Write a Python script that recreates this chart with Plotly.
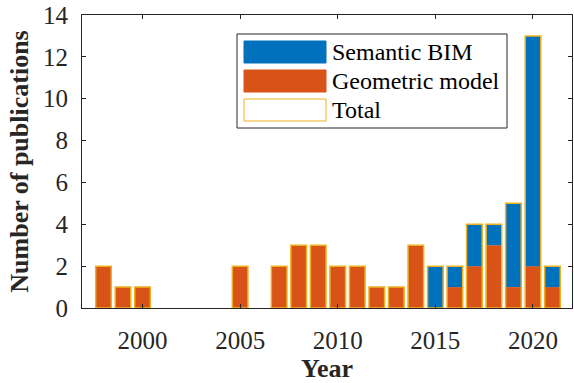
import plotly.graph_objects as go

years = [1998, 1999, 2000, 2005, 2007, 2008, 2009, 2010, 2011, 2012, 2013, 2014,
         2015, 2016, 2017, 2018, 2019, 2020, 2021]
total = [2, 1, 1, 2, 2, 3, 3, 2, 2, 1, 1, 3, 2, 2, 4, 4, 5, 13, 2]
geometric = [2, 1, 1, 2, 2, 3, 3, 2, 2, 1, 1, 3, 0, 1, 2, 3, 1, 2, 1]
semantic = [t - g for t, g in zip(total, geometric)]
legend_labels = ["Semantic BIM", "Geometric model", "Total"]
x_ticks = [2000, 2005, 2010, 2015, 2020]
y_ticks = [0, 2, 4, 6, 8, 10, 12, 14]

BLUE = "#0072BD"
ORANGE = "#D95319"
YELLOW = "#EDB120"
AX = "#262626"
FONT = "Liberation Serif, Times New Roman, serif"

W, H = 574, 383
L, R, T, B = 82, 2, 15, 75
PW, PH = W - L - R, H - T - B


def px(x):
    return (x - L) / PW


def py(y):
    return (H - B - y) / PH


fig = go.Figure()
fig.add_trace(go.Bar(x=years, y=geometric, marker=dict(color=ORANGE, line=dict(width=0)),
                     width=0.8, name=legend_labels[1], showlegend=False))
fig.add_trace(go.Bar(x=years, y=semantic, base=geometric,
                     marker=dict(color=BLUE, line=dict(width=0)),
                     width=0.8, name=legend_labels[0], showlegend=False))
fig.add_trace(go.Bar(x=years, y=total, marker=dict(color="rgba(0,0,0,0)", line=dict(color=YELLOW, width=1.5)),
                     width=0.8, name=legend_labels[2], showlegend=False))

axis_common = dict(showline=True, mirror="ticks", linecolor=AX, linewidth=1,
                   ticks="inside", tickcolor=AX, ticklen=4, tickwidth=1,
                   showgrid=False, zeroline=False, automargin=False,
                   tickfont=dict(family=FONT, size=25, color=AX))

fig.update_layout(
    width=W, height=H, barmode="overlay",
    margin=dict(l=L, r=R, t=T, b=B),
    paper_bgcolor="white", plot_bgcolor="white",
    xaxis=dict(range=[1996.9, 2022], tickvals=x_ticks, ticklabelstandoff=10,
               title=dict(text="<b>Year</b>", font=dict(family=FONT, size=26, color=AX), standoff=4),
               **axis_common),
    yaxis=dict(range=[0, 14], tickvals=y_ticks, ticklabelstandoff=8,
               title=dict(text="<b>Number of publications</b>", font=dict(family=FONT, size=26, color=AX), standoff=6),
               **axis_common),
    showlegend=False,
)

shapes = []
annotations = []
# legend box
shapes.append(dict(type="rect", xref="paper", yref="paper", x0=px(237), x1=px(507), y0=py(128), y1=py(34),
                   line=dict(color=AX, width=1), fillcolor="white", layer="above"))
sw = [(41, 63, BLUE, BLUE), (70, 92, ORANGE, ORANGE), (99, 121, "white", YELLOW)]
for (y0, y1, fc, lc), lab in zip(sw, legend_labels):
    shapes.append(dict(type="rect", xref="paper", yref="paper", x0=px(244), x1=px(326), y0=py(y1), y1=py(y0),
                       line=dict(color=lc, width=1), fillcolor=fc, layer="above"))
    annotations.append(dict(xref="paper", yref="paper", x=px(330), y=py((y0 + y1) / 2), text=lab,
                            showarrow=False, xanchor="left", yanchor="middle",
                            font=dict(family=FONT, size=24, color="black")))
fig.update_layout(shapes=shapes, annotations=annotations)

fig.write_html("out.html", config={"displayModeBar": False},
               post_script="document.body.style.margin='0';document.body.style.overflow='hidden';")
